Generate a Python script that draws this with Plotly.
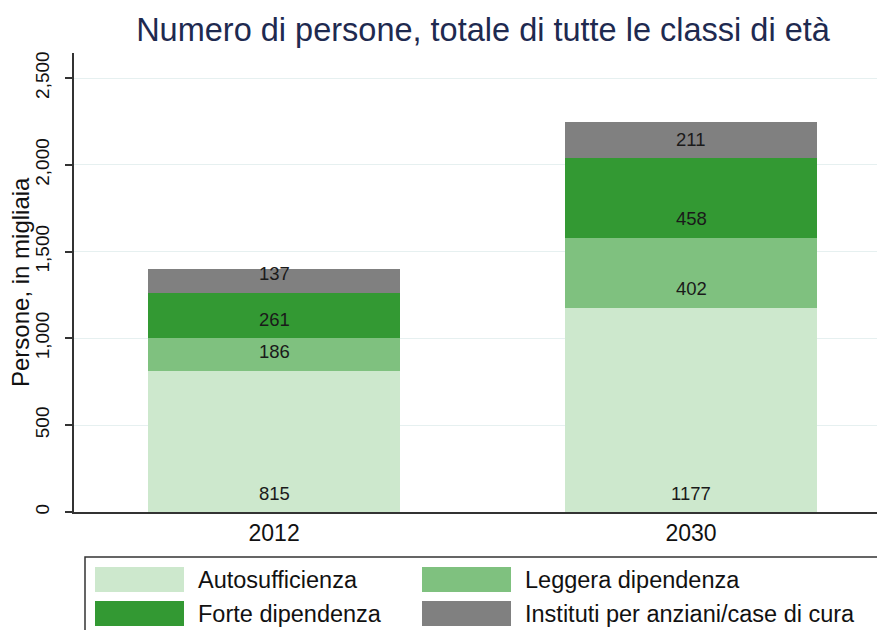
import plotly.graph_objects as go

# ---- data ----
years = ["2012", "2030"]
series_names = ["Autosufficienza", "Leggera dipendenza", "Forte dipendenza",
                "Instituti per anziani/case di cura"]
autosufficienza = [815, 1177]
leggera = [186, 402]
forte = [261, 458]
instituti = [137, 211]
series_values = [autosufficienza, leggera, forte, instituti]
colors = ["#cde8cd", "#7fc17f", "#339933", "#808080"]
y_ticks = [0, 500, 1000, 1500, 2000, 2500]
y_tick_labels = ["0", "500", "1,000", "1,500", "2,000", "2,500"]
y_title = "Persone, in migliaia"

W, H = 877, 630
L, R, T, B = 74, 0, 53, 118
FONT = "Liberation Sans, Arial, Helvetica, sans-serif"

def px_x(px):
    return (px - L) / (W - L - R)

def px_y(py):
    return (H - B - py) / (H - T - B)

fig = go.Figure()
for name, vals, col in zip(series_names, series_values, colors):
    fig.add_trace(go.Bar(x=years, y=vals, name=name, marker=dict(color=col, line=dict(width=0)),
                         width=0.604, showlegend=False, hoverinfo="x+y+name"))

# value labels placed just above each segment's base
annotations = []
for i, yr in enumerate(years):
    base = 0
    for vals in series_values:
        annotations.append(dict(x=i, y=base, xref="x", yref="y", text=str(vals[i]),
                                showarrow=False, yanchor="middle", yshift=19,
                                font=dict(family=FONT, size=18.5, color="#1a1a1a")))
        base += vals[i]

# y axis title
annotations.append(dict(x=px_x(20), y=px_y(282), xref="paper", yref="paper", text=y_title,
                        textangle=-90, showarrow=False, xanchor="center", yanchor="middle",
                        font=dict(family=FONT, size=24, color="#111111")))

# custom legend
shapes = [dict(type="rect", xref="paper", yref="paper", x0=px_x(85), x1=px_x(885),
               y0=px_y(557), y1=px_y(650), line=dict(color="#333333", width=1.5),
               fillcolor="white", layer="below")]
sw_cols = [(95, 184, 196), (422, 511, 523)]
sw_rows = [(567, 592), (601, 626)]
for k, (name, col) in enumerate(zip(series_names, colors)):
    r, c = divmod(k, 2)
    x0, x1, tx = sw_cols[c]
    y0, y1 = sw_rows[r]
    shapes.append(dict(type="rect", xref="paper", yref="paper", x0=px_x(x0), x1=px_x(x1),
                       y0=px_y(y0), y1=px_y(y1), line=dict(width=0), fillcolor=col))
    annotations.append(dict(x=px_x(tx), y=px_y((y0 + y1) / 2), xref="paper", yref="paper",
                            text=name, showarrow=False, xanchor="left", yanchor="middle",
                            font=dict(family=FONT, size=23.5, color="#111111")))

fig.update_layout(
    width=W, height=H,
    margin=dict(l=L, r=R, t=T, b=B, pad=0),
    paper_bgcolor="white", plot_bgcolor="white",
    barmode="stack", bargap=0.3,
    title=dict(text="Numero di persone, totale di tutte le classi di età",
               x=px_x(483), xref="paper", xanchor="center",
               y=1 - 30 / H, yref="container", yanchor="middle",
               font=dict(family=FONT, size=32.5, color="#1e2a50")),
    xaxis=dict(type="category", range=[-0.48, 1.446], showline=True, linecolor="#333333",
               linewidth=1.5, ticks="", tickfont=dict(family=FONT, size=23, color="#111111"),
               showgrid=False, fixedrange=True),
    yaxis=dict(range=[0, 2644], tickvals=y_ticks, ticktext=y_tick_labels, tickangle=-90,
               showline=True, linecolor="#333333", linewidth=1.5,
               ticks="outside", ticklen=7, tickcolor="#333333", tickwidth=1.5,
               ticklabelstandoff=9,
               tickfont=dict(family=FONT, size=19, color="#111111"),
               showgrid=True, gridcolor="#e6f0f0", gridwidth=1, zeroline=False),
    annotations=annotations,
    shapes=shapes,
)

fig.write_html("out.html", config={"displayModeBar": False},
               post_script="document.body.style.margin='0';")
